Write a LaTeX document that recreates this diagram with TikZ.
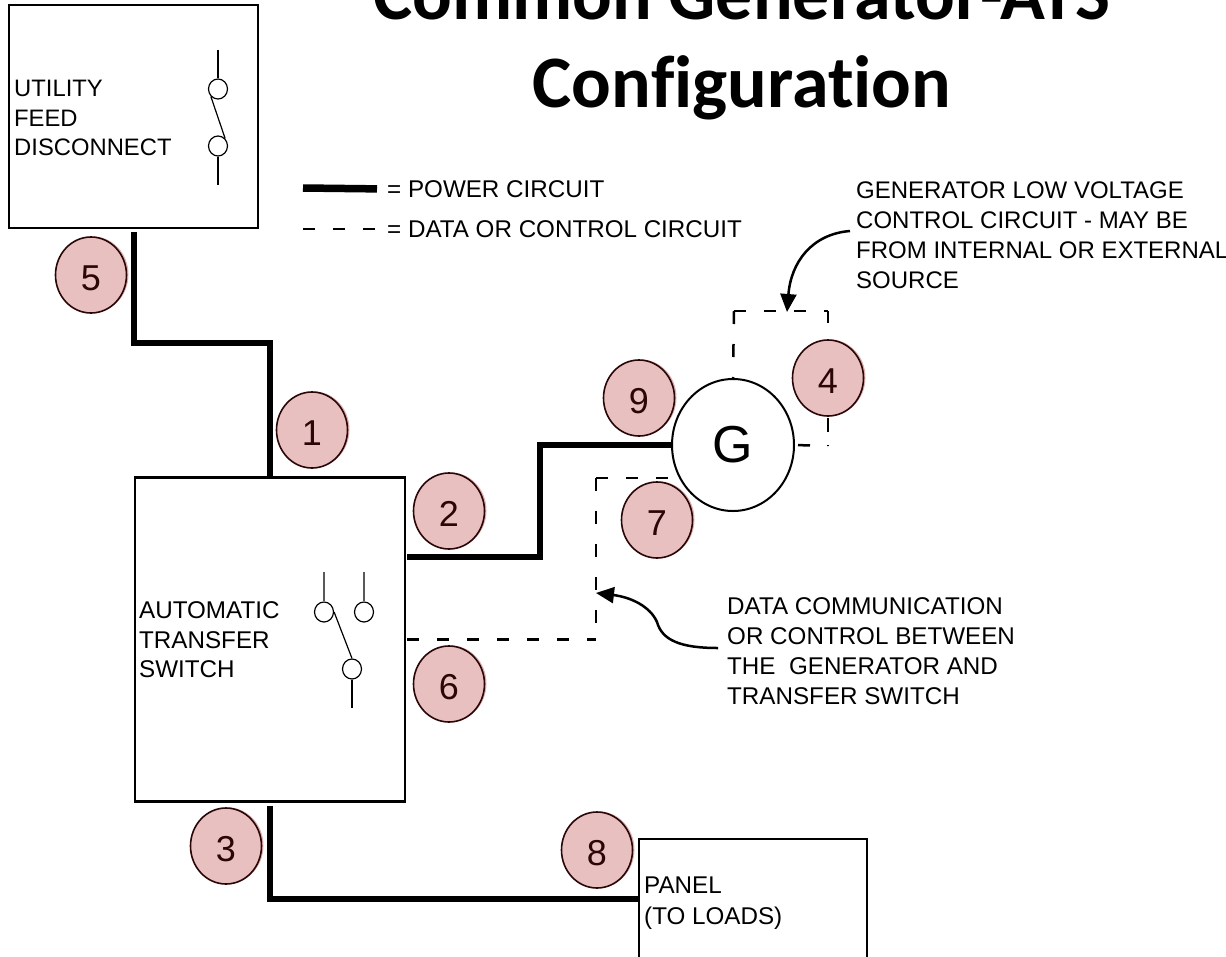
\documentclass[tikz,border=0pt]{standalone}
\usepackage{fontspec}
\setmainfont{Liberation Sans}
\newfontfamily\titlefont{Carlito}[Ligatures=CommonOff]
\usetikzlibrary{arrows.meta,positioning,shapes.geometric,shadows}
\definecolor{badgefill}{HTML}{E8C0C0}
\definecolor{badgeline}{HTML}{2A0606}
\definecolor{badgeglow}{HTML}{DDAFAF}
\begin{document}
\begin{tikzpicture}[x=1pt,y=-1pt,
  font=\fontsize{24.2}{30}\selectfont,
  box/.style={draw,line width=2.5pt,outer sep=0pt,inner sep=0pt},
  lbl/.style={align=left,inner sep=0pt,anchor=west},
  badge/.style={ellipse,draw=badgeline,fill=badgefill,text=badgeline,line width=1.6pt,
                minimum width=71pt,minimum height=76pt,inner sep=0pt,
                text height=31pt,text depth=0pt,
                font=\fontsize{36}{36}\selectfont,
                general shadow={shadow xshift=2pt,shadow yshift=0.5pt,fill=badgeglow}},
  contact/.style={ellipse,draw,line width=1.2pt,fill=white,minimum width=19pt,minimum height=20pt,inner sep=0pt},
  power/.style={line width=6pt},
  datal/.style={line width=2.5pt,dash pattern=on 12pt off 18pt},
  datav/.style={line width=2.5pt,dash pattern=on 13pt off 20pt},
  lead/.style={line width=1.2pt},
  w/.style={-{Triangle[length=18pt,width=16pt]},line width=2.5pt}]
  \clip (0,0) rectangle (1226,956);
  % title
  \node[align=center,font=\titlefont\bfseries\fontsize{74}{88}\selectfont] (title) at (742,46)
       {Common Generator-ATS\\Configuration};
  % boxes
  \node[box,minimum width=249pt,minimum height=223pt] (util) at (133.5,116.5) {};
  \node[box,minimum width=270pt,minimum height=324pt] (ats) at (270,639.5) {};
  \node[box,minimum width=228pt,minimum height=120pt] (panel) at (753,899) {};
  \node[lbl,right=5pt of util.west,yshift=-1.5pt,font=\fontsize{23.8}{29.5}\selectfont] (utilt) {UTILITY\\FEED\\DISCONNECT};
  \node[lbl,right=4pt of ats.west,yshift=-0.5pt,font=\fontsize{24.2}{29.5}\selectfont] (atst) {AUTOMATIC\\TRANSFER\\SWITCH};
  \node[lbl,right=5pt of panel.west,yshift=-4pt,font=\fontsize{24.2}{31.5}\selectfont] (panelt) {PANEL\\(TO LOADS)};
  \node[ellipse,draw,line width=2pt,fill=white,minimum width=122pt,minimum height=132pt,
        inner sep=0pt,font=\fontsize{52}{52}\selectfont] (gen) at (733,445) {G};
  % disconnect switch
  \node[contact] (ua) at (218,89) {};
  \node[contact] (ub) at (218,146) {};
  \coordinate (uat) at (218,50);
  \coordinate (ubb) at (218,185);
  \draw[lead] (uat) -- (ua);
  \draw[lead] (ub) -- (ubb);
  \draw[lead] (ua.south west) -- (ub.north east);
  % transfer switch
  \node[contact] (sa) at (324,612) {};
  \node[contact] (sb) at (364,612) {};
  \node[contact] (sc) at (352,669) {};
  \coordinate (sat) at (324,572);
  \coordinate (sbt) at (364,572);
  \coordinate (scb) at (352,708);
  \draw[lead,gray!70!black] (sat) -- (sa);
  \draw[lead,gray!70!black] (sbt) -- (sb);
  \draw[lead] (sc) -- (scb);
  \draw[lead] (sa.east) -- (sc.north);
  % circuits
  \coordinate (atsp) at (407,557);
  \coordinate (genf) at (670,478);
  \coordinate (datc) at (596,478);
  \coordinate (datb) at (596,639.5);
  \coordinate (loopa) at (734,311);
  \coordinate (loopb) at (828,311);
  \coordinate (loopc) at (828,446);
  \draw[power,shorten <=4pt] (util.south) -- ++(0,115) -| (ats.north);
  \draw[power] (atsp) -- (540,557) |- (gen.west);
  \draw[power,shorten <=4pt] (ats.south) |- (panel.west);
  \draw[datal,shorten <=2pt] (ats.east) -- (datb);
  \draw[datav] (datc) -- (datb);
  \draw[datal] (datc) -- (genf);
  \draw[datal,shorten <=3pt] (gen.east) -- (loopc);
  \draw[line width=2.5pt,dash pattern=on 1pt off 13pt on 14pt off 95pt on 13pt] (loopc) -- (loopb);
  \draw[datal] (loopa) -- (loopb);
  \draw[datav] (loopa) -- (gen.north);
  % legend
  \node[lbl] (pow) at (387,189) {= POWER CIRCUIT};
  \node[lbl] (dat) at (387,229) {= DATA OR CONTROL CIRCUIT};
  \coordinate (powl) at (303,188);
  \coordinate (datl) at (303,229);
  \draw[power,line width=7.5pt,shorten >=10pt] (powl) -- (pow.west);
  \draw[datal,shorten >=11pt] (datl) -- (dat.west);
  % notes
  \node[lbl,font=\fontsize{24}{30}\selectfont] (lownote) at (856,235) {GENERATOR LOW VOLTAGE\\CONTROL CIRCUIT - MAY BE\\FROM INTERNAL OR EXTERNAL\\SOURCE};
  \node[lbl] (datnote) at (727,651) {DATA COMMUNICATION\\OR CONTROL BETWEEN\\THE\ \ GENERATOR AND\\TRANSFER SWITCH};
  \coordinate (lowtip) at (787,312);
  \coordinate (dattip) at (596,593);
  \draw[w] (lownote.west) ++(-6,-4) .. controls (812,234) and (791,262) .. (lowtip);
  \draw[w] (datnote.west) ++(-9,-3) .. controls (680,648) and (662,640) .. (657,622)
           .. controls (650,606) and (630,597) .. (dattip);
  % badges
  \node[badge] (one) at (312,430) {1};
  \node[badge] (two) at (449,511) {2};
  \node[badge] (three) at (226,846) {3};
  \node[badge] (four) at (828,378) {4};
  \node[badge] (five) at (91,275) {5};
  \node[badge] (six) at (449,684) {6};
  \node[badge] (seven) at (657,520) {7};
  \node[badge] (eight) at (597,850) {8};
  \node[badge] (nine) at (639,398) {9};
\end{tikzpicture}
\end{document}
